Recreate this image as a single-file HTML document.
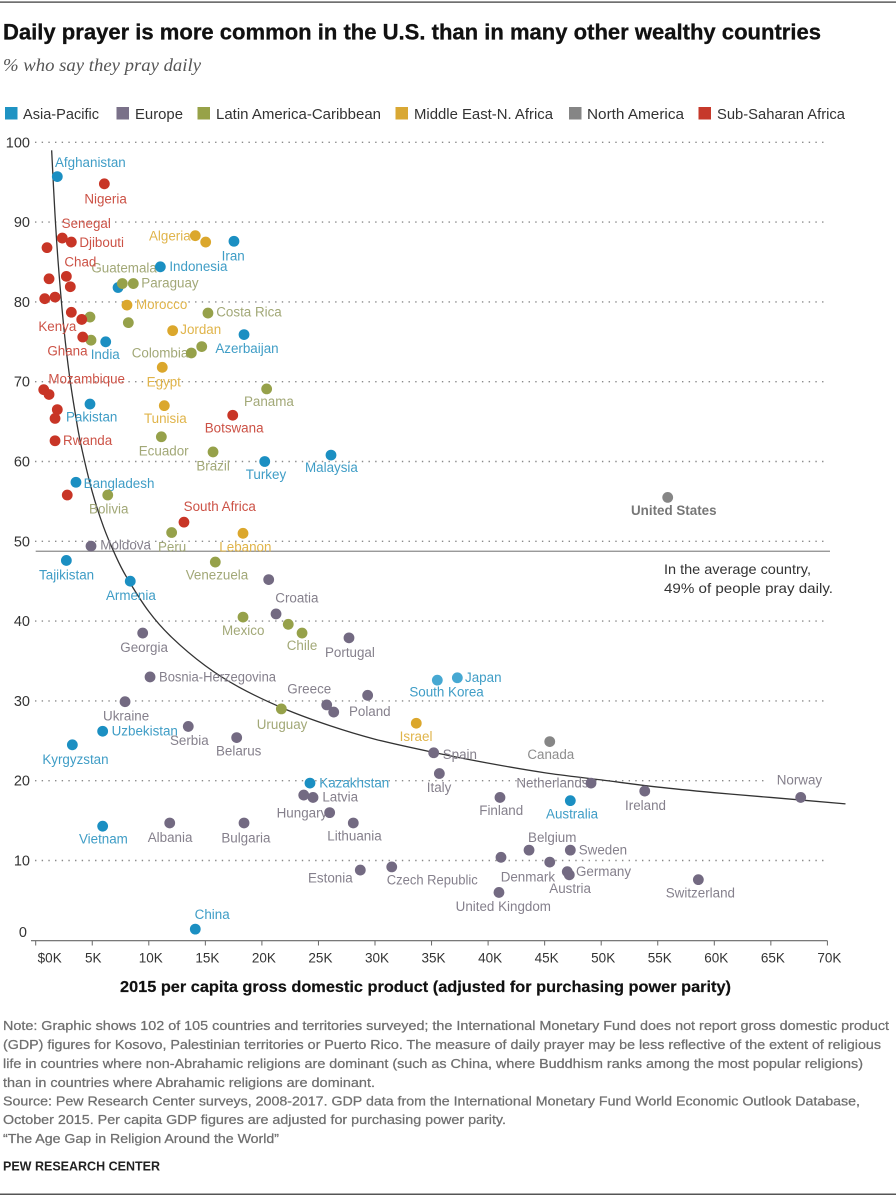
<!DOCTYPE html>
<html lang="en">
<head>
<meta charset="utf-8">
<title>Daily prayer and GDP</title>
<style>
html,body{margin:0;padding:0;background:#fff;}
body{width:896px;height:1200px;overflow:hidden;}
svg{display:block;font-family:"Liberation Sans",sans-serif;}
.note{font-size:13px;fill:#6f6f6f;stroke:#6f6f6f;stroke-width:.25px;}
.legend-text{font-size:14.5px;fill:#333;}
.tick-label{font-size:13.5px;fill:#333;}
.y-label{font-size:14.5px;fill:#333;text-anchor:end;}
.point-label{font-size:13.4px;}
</style>
</head>
<body>
<svg id="chart" width="896" height="1200" viewBox="0 0 896 1200" xmlns="http://www.w3.org/2000/svg">
  <rect x="0" y="0" width="896" height="1200" fill="#fff"/>
  <rect x="0" y="1.5" width="896" height="1.2" fill="#333"/>
  <text x="3" y="39.5" font-size="21.8" font-weight="bold" fill="#111" stroke="#111" stroke-width=".3" textLength="818" lengthAdjust="spacingAndGlyphs">Daily prayer is more common in the U.S. than in many other wealthy countries</text>
  <text x="3" y="71" font-family="'Liberation Serif',serif" font-style="italic" font-size="17.5" fill="#555" textLength="198" lengthAdjust="spacingAndGlyphs">% who say they pray daily</text>

  <g id="legend">
    <g><rect x="5" y="107" width="12.5" height="12.5" fill="#1f93c3"/><text class="legend-text" x="23" y="119" textLength="76" lengthAdjust="spacingAndGlyphs">Asia-Pacific</text></g>
    <g><rect x="116.5" y="107" width="12.5" height="12.5" fill="#7a7189"/><text class="legend-text" x="135" y="119" textLength="48" lengthAdjust="spacingAndGlyphs">Europe</text></g>
    <g><rect x="197.5" y="107" width="12.5" height="12.5" fill="#97a248"/><text class="legend-text" x="216" y="119" textLength="165" lengthAdjust="spacingAndGlyphs">Latin America-Caribbean</text></g>
    <g><rect x="395.5" y="107" width="12.5" height="12.5" fill="#d9a834"/><text class="legend-text" x="414" y="119" textLength="139" lengthAdjust="spacingAndGlyphs">Middle East-N. Africa</text></g>
    <g><rect x="569" y="107" width="12.5" height="12.5" fill="#858585"/><text class="legend-text" x="587" y="119" textLength="97" lengthAdjust="spacingAndGlyphs">North America</text></g>
    <g><rect x="698.5" y="107" width="12.5" height="12.5" fill="#c6392b"/><text class="legend-text" x="717" y="119" textLength="128" lengthAdjust="spacingAndGlyphs">Sub-Saharan Africa</text></g>
  </g>

  <g id="grid"></g>
  <g id="y-axis"></g>
  <g id="x-axis"></g>
  <g id="reference"></g>
  <g id="trend"></g>
  <g id="labels"></g>
  <g id="dots"></g>

  <text x="664" y="574" font-size="14" fill="#333" textLength="147" lengthAdjust="spacingAndGlyphs">In the average country,</text>
  <text x="664" y="593" font-size="14" fill="#333" textLength="169" lengthAdjust="spacingAndGlyphs">49% of people pray daily.</text>

  <text x="120" y="992" font-size="15.5" font-weight="bold" fill="#111" stroke="#111" stroke-width=".2" textLength="611" lengthAdjust="spacingAndGlyphs">2015 per capita gross domestic product (adjusted for purchasing power parity)</text>

  <g>
    <text class="note" x="3" y="1030" textLength="886" lengthAdjust="spacingAndGlyphs">Note: Graphic shows 102 of 105 countries and territories surveyed; the International Monetary Fund does not report gross domestic product</text>
    <text class="note" x="3" y="1049" textLength="878" lengthAdjust="spacingAndGlyphs">(GDP) figures for Kosovo, Palestinian territories or Puerto Rico. The measure of daily prayer may be less reflective of the extent of religious</text>
    <text class="note" x="3" y="1068" textLength="860" lengthAdjust="spacingAndGlyphs">life in countries where non-Abrahamic religions are dominant (such as China, where Buddhism ranks among the most popular religions)</text>
    <text class="note" x="3" y="1087" textLength="372" lengthAdjust="spacingAndGlyphs">than in countries where Abrahamic religions are dominant.</text>
    <text class="note" x="3" y="1105.7" textLength="857" lengthAdjust="spacingAndGlyphs">Source: Pew Research Center surveys, 2008-2017. GDP data from the International Monetary Fund World Economic Outlook Database,</text>
    <text class="note" x="3" y="1124" textLength="503" lengthAdjust="spacingAndGlyphs">October 2015. Per capita GDP figures are adjusted for purchasing power parity.</text>
    <text class="note" x="3" y="1143" textLength="276" lengthAdjust="spacingAndGlyphs">“The Age Gap in Religion Around the World”</text>
  </g>
  <text x="3" y="1170.7" font-size="13" font-weight="bold" fill="#222" textLength="157" lengthAdjust="spacingAndGlyphs">PEW RESEARCH CENTER</text>
  <rect x="0" y="1193.5" width="896" height="1.5" fill="#555"/>
</svg>

<script>
// ---- Chart data ----
const yTicks = [100, 90, 80, 70, 60, 50, 40, 30, 20, 10, 0];
const xTicks = [0, 5, 10, 15, 20, 25, 30, 35, 40, 45, 50, 55, 60, 65, 70];
const xTickLabels = ['$0K', '5K', '10K', '15K', '20K', '25K', '30K', '35K', '40K', '45K', '50K', '55K', '60K', '65K', '70K'];
const averagePrayer = 48.75;

const regionNames = ['asia-pacific', 'europe', 'latin-america', 'middle-east', 'north-america', 'sub-saharan-africa'];

const countries = [
  'Afghanistan','Iran','Indonesia','Philippines','India','Azerbaijan','Pakistan','Turkey','Malaysia','Bangladesh','Tajikistan','Armenia','Uzbekistan','Kyrgyzstan','Vietnam','China','Kazakhstan','Japan','South Korea','Australia',
  'Moldova','Georgia','Croatia','Russia','Portugal','Bosnia-Herzegovina','Ukraine','Serbia','Belarus','Albania','Bulgaria','Greece','Slovakia','Poland','Spain','Italy','Latvia','Romania','Hungary','Lithuania','Estonia','Czech Republic','Finland','Belgium','Denmark','France','United Kingdom','Sweden','Germany','Austria','Netherlands','Ireland','Norway','Switzerland',
  'Guatemala','Paraguay','Costa Rica','Honduras','El Salvador','Nicaragua','Colombia','Dominican Republic','Panama','Ecuador','Brazil','Bolivia','Peru','Venezuela','Mexico','Argentina','Chile','Uruguay',
  'Algeria','Iraq','Morocco','Jordan','Egypt','Tunisia','Lebanon','Israel',
  'United States','Canada',
  'Nigeria','Senegal','Djibouti','Niger','Chad','Mali','Cameroon','Liberia','Guinea-Bissau','Zambia','Kenya','Ghana','Mozambique','Burkina Faso','Uganda','Tanzania','Rwanda','Ethiopia','South Africa','Botswana'
];
const gdpThousands = [
  1.91,17.53,11.02,7.28,6.19,18.42,4.80,20.25,26.11,3.56,2.71,8.36,5.92,3.24,5.92,14.11,24.25,37.28,35.51,47.27,
  4.89,9.46,20.60,21.25,27.70,10.11,7.90,13.49,17.77,11.85,18.42,25.73,26.35,29.35,35.19,35.69,24.52,23.70,25.99,28.08,28.70,31.48,41.05,43.62,41.14,45.45,40.96,47.27,47.00,47.18,49.10,53.85,67.64,58.59,
  7.66,8.63,15.23,4.80,8.19,4.89,13.76,14.68,20.42,11.11,15.68,6.37,12.02,15.88,18.33,22.33,23.55,21.72,
  14.11,15.03,8.07,12.11,11.19,11.37,18.33,33.65,
  55.88,45.45,
  6.07,2.35,3.15,1.00,2.71,1.18,3.06,0.80,1.71,3.15,4.07,4.16,0.71,1.18,1.91,1.71,1.71,2.79,13.11,17.42
];
const prayerPercent = [
  95.7,87.6,84.4,81.8,75.0,75.9,67.2,60.0,60.8,57.4,47.6,45.0,26.2,24.5,14.3,1.4,19.7,32.9,32.6,17.5,
  49.4,38.5,45.2,40.9,37.9,33.0,29.9,26.8,25.4,14.7,14.7,29.5,28.6,30.7,23.5,20.9,17.9,18.2,16.0,14.7,8.8,9.2,17.9,11.3,10.4,9.8,6.0,11.3,8.6,8.2,19.7,18.7,17.9,7.6,
  82.3,82.3,78.6,78.1,77.4,75.2,73.6,74.4,69.1,63.1,61.2,55.8,51.1,47.4,40.5,39.6,38.5,29.0,
  88.3,87.5,79.6,76.4,71.8,67.0,51.0,27.2,
  55.5,24.9,
  94.8,88.0,87.5,86.8,83.2,82.9,81.9,80.4,80.6,78.7,77.8,75.6,69.0,68.4,66.5,65.4,62.6,55.8,52.4,65.8
];
const regionOfCountry = [
  0,0,0,0,0,0,0,0,0,0,0,0,0,0,0,0,0,0,0,0,
  1,1,1,1,1,1,1,1,1,1,1,1,1,1,1,1,1,1,1,1,1,1,1,1,1,1,1,1,1,1,1,1,1,1,
  2,2,2,2,2,2,2,2,2,2,2,2,2,2,2,2,2,2,
  3,3,3,3,3,3,3,3,
  4,4,
  5,5,5,5,5,5,5,5,5,5,5,5,5,5,5,5,5,5,5,5
];
const unlabeledCountries = ['Philippines','Russia','Slovakia','Romania','France','Honduras','El Salvador','Nicaragua','Dominican Republic','Argentina','Iraq','Niger','Mali','Cameroon','Liberia','Guinea-Bissau','Zambia','Burkina Faso','Uganda','Tanzania','Ethiopia'];
const lighterDots = ['Japan', 'South Korea'];

// Trend curve
const trendGdp = [1.41,1.7,2,2.5,3,3.5,4,5,6,7,8,10,12,15,18,22,26,30,35,40,45,50,55,60,65,71.6];
const trendPrayer = [99,91.1,84.7,76.6,70.6,66,62.1,56.2,51.8,48.4,45.6,41.2,38,34.4,31.7,29,26.9,25.2,23.6,22.2,21,20.1,19.2,18.5,17.9,17.1];

// ---- Layout (not data) ----
const xScale = k => 35.7 + 11.31 * k;
const yScale = v => 940.3 - 7.98 * v;
const dotColors = ['#1b8fc2', '#736a82', '#96a14a', '#dba72c', '#868686', '#c83526'];
const labelColors = ['#3f9dc6', '#85808c', '#a2a877', '#e0b44a', '#8d8d8d', '#cc5246'];
const labelOffsetPx = {
  'Afghanistan':[-2.3,-9.6],'Nigeria':[-20,19.6],'Senegal':[-.6,-10],'Djibouti':[8,5],'Algeria':[-46.3,5],'Iran':[-12.3,19],'Chad':[-2,-10],'Guatemala':[-31,-11],'Indonesia':[9,4.3],'Paraguay':[8,4],'Morocco':[9,4],'Costa Rica':[8.3,3.4],'Jordan':[7.6,3.6],'Kenya':[-43.4,11.3],'Ghana':[-35.4,18.7],'India':[-15,17.3],'Colombia':[-59.6,4.4],'Azerbaijan':[-28.7,18.3],'Mozambique':[4.6,-6],'Egypt':[-15.6,19],
  'Panama':[-22.7,17.3],'Pakistan':[-24,17.3],'Tunisia':[-20.3,17.3],'Botswana':[-28,17.4],'Rwanda':[8,4],'Ecuador':[-22.6,18.7],'Brazil':[-16.7,18.7],'Turkey':[-19,17.3],'Malaysia':[-26,17],'Bangladesh':[7.7,5.7],'Bolivia':[-18.7,18.6],'South Africa':[-.3,-11],'Peru':[-13.7,19],'Lebanon':[-23.7,18],'Moldova':[9.3,3.3],'Tajikistan':[-27.3,19],'Venezuela':[-29.6,17.6],'Armenia':[-24.3,19],'Croatia':[6.6,23],'Mexico':[-21,18],'Georgia':[-22.4,19],'Chile':[-15.3,17],'Portugal':[-24,19],
  'Bosnia-Herzegovina':[9,4.3],'Greece':[-39.4,-11.4],'Uruguay':[-24.6,20.3],'Ukraine':[-22,18.7],'Uzbekistan':[9,4.4],'Serbia':[-18.3,18.4],'Belarus':[-20.7,18],'Kyrgyzstan':[-30,19],'Vietnam':[-23.7,17.4],'Albania':[-22,19],'Bulgaria':[-22.7,19.7],'China':[-.6,-10.3],
  'Japan':[7.7,4.3],'South Korea':[-28,16.4],'Poland':[-18.7,20.7],'Israel':[-16.6,18],'Spain':[9,6],'Canada':[-22.4,17.6],'Kazakhstan':[9.3,4.3],'Netherlands':[-74.7,4.4],'Italy':[-12.6,18.6],'Latvia':[9.3,4],'Hungary':[-53,4.7],'Finland':[-20.7,17.7],'Australia':[-24.3,18],'Lithuania':[-26,17.7],'Belgium':[-1,-8.3],'Sweden':[8.4,4.3],'Denmark':[-.3,24.4],'Estonia':[-52.3,12.4],'Czech Republic':[-5,17.6],'Germany':[8.7,4.3],'Austria':[-20,18.3],'United Kingdom':[-43.3,18.7],'Ireland':[-19.7,18.7],'Norway':[-24,-13],'Switzerland':[-32.6,17.6],'United States':[-36.7,17.5]
};
const labelFitWidth = {'Bosnia-Herzegovina': 117, 'Czech Republic': 91};

const NS = 'http://www.w3.org/2000/svg';
const slug = s => String(s).toLowerCase().replace(/[^a-z0-9]+/g, '-');
function make(tag, parent, attrs, content) {
  const node = document.createElementNS(NS, tag);
  for (const key in attrs) node.setAttribute(key, attrs[key]);
  if (content !== undefined) node.textContent = content;
  parent.appendChild(node);
  return node;
}

// Gridlines and y axis labels
const gridGroup = document.getElementById('grid');
const yGroup = document.getElementById('y-axis');
yTicks.forEach(tick => {
  const y = yScale(tick);
  if (tick > 0) {
    const line = make('line', gridGroup, {x1: 35, x2: 828, y1: y, y2: y, stroke: '#8a8a8a', 'stroke-width': 1.4, 'stroke-dasharray': '1.4 5.27'});
    
    
  }
  const label = make('text', yGroup, {class: 'y-label', x: tick === 0 ? 27 : 30, y: tick === 0 ? y - 3.5 : y + 5}, tick);
  
  
});

// X axis
const xGroup = document.getElementById('x-axis');
const axisLine = make('line', xGroup, {x1: 31, x2: xScale(70), y1: 940.7, y2: 940.7, stroke: '#666', 'stroke-width': 1.2});


xTicks.forEach((tick, i) => {
  const x = xScale(tick);
  const mark = make('line', xGroup, {x1: x, x2: x, y1: 940.7, y2: 945.5, stroke: '#666', 'stroke-width': 1});
  
  
  const shift = tick === 0 ? 14 : (tick === 5 ? 1 : 2);
  const label = make('text', xGroup, {class: 'tick-label', x: x + shift, y: 962.7, 'text-anchor': 'middle'}, xTickLabels[i]);
  
  
});

// Average reference line
const refLine = make('line', document.getElementById('reference'), {x1: 35.7, x2: 830, y1: yScale(averagePrayer), y2: yScale(averagePrayer), stroke: '#8b8b8b', 'stroke-width': 1.3});



// Trend curve, smoothed through the read points with Catmull-Rom segments
const trendXY = trendGdp.map((k, i) => [xScale(k), yScale(trendPrayer[i])]);
let trendD = 'M' + trendXY[0][0].toFixed(2) + ' ' + trendXY[0][1].toFixed(2);
for (let i = 0; i < trendXY.length - 1; i++) {
  const p0 = trendXY[Math.max(i - 1, 0)];
  const p1 = trendXY[i];
  const p2 = trendXY[i + 1];
  const p3 = trendXY[Math.min(i + 2, trendXY.length - 1)];
  const c1x = p1[0] + (p2[0] - p0[0]) / 6;
  const c1y = p1[1] + (p2[1] - p0[1]) / 6;
  const c2x = p2[0] - (p3[0] - p1[0]) / 6;
  const c2y = p2[1] - (p3[1] - p1[1]) / 6;
  trendD += ' C' + c1x.toFixed(2) + ' ' + c1y.toFixed(2) + ' ' + c2x.toFixed(2) + ' ' + c2y.toFixed(2) + ' ' + p2[0].toFixed(2) + ' ' + p2[1].toFixed(2);
}
const trendPath = make('path', document.getElementById('trend'), {d: trendD, fill: 'none', stroke: '#333', 'stroke-width': 1.3, 'stroke-linejoin': 'round'});



// Country labels and dots
const labelGroup = document.getElementById('labels');
const dotGroup = document.getElementById('dots');
countries.forEach((name, i) => {
  const region = regionOfCountry[i];
  const cx = xScale(gdpThousands[i]);
  const cy = yScale(prayerPercent[i]);
  if (!unlabeledCountries.includes(name)) {
    const off = labelOffsetPx[name] || [8, 4];
    if (name === 'Norway') {
      const mask = make('rect', labelGroup, {x: cx + off[0] - 12, y: cy + off[1] - 11, width: 62, height: 16, fill: '#fff'});
      
      
    }
    const isUS = name === 'United States';
    const label = make('text', labelGroup, {class: 'point-label', x: cx + off[0], y: cy + off[1], fill: isUS ? '#777' : labelColors[region], 'font-weight': isUS ? 'bold' : 'normal'}, name);
    if (labelFitWidth[name]) {
      label.setAttribute('textLength', labelFitWidth[name]);
      label.setAttribute('lengthAdjust', 'spacingAndGlyphs');
    }
    
    
  }
  const dot = make('circle', dotGroup, {cx: cx, cy: cy, r: 5.4, fill: lighterDots.includes(name) ? '#46a8d2' : dotColors[region]});
  
  
});
</script>
</body>
</html>
